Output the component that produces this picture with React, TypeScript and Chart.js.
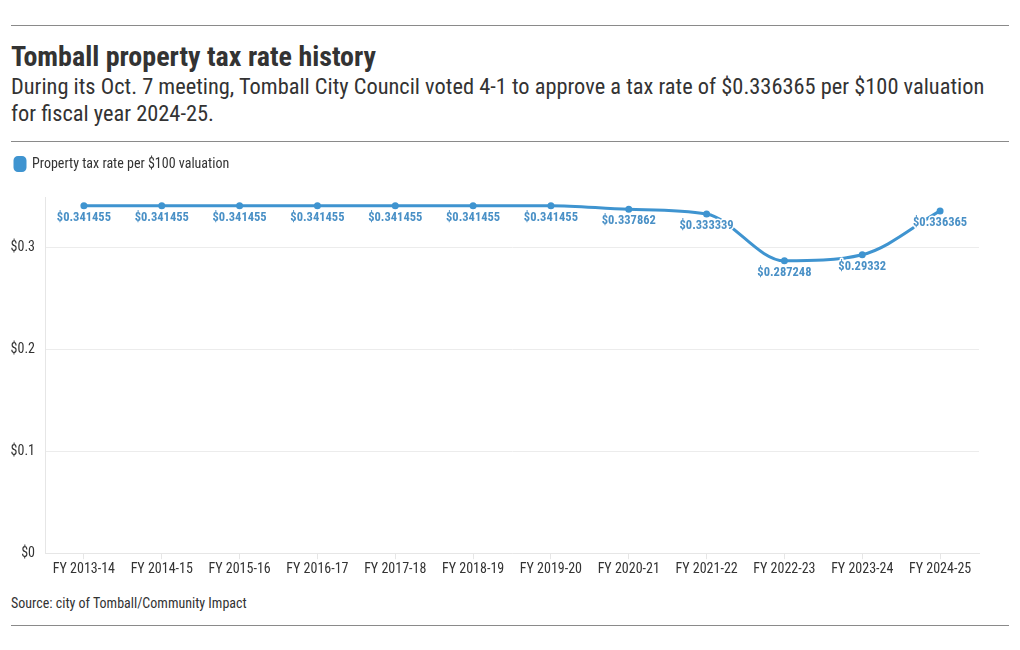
import React, { useEffect, useRef } from "react";
import { Chart, registerables } from "chart.js";

Chart.register(...registerables);

const categories = [
  "FY 2013-14", "FY 2014-15", "FY 2015-16", "FY 2016-17", "FY 2017-18", "FY 2018-19",
  "FY 2019-20", "FY 2020-21", "FY 2021-22", "FY 2022-23", "FY 2023-24", "FY 2024-25",
];
const taxRates = [
  0.341455, 0.341455, 0.341455, 0.341455, 0.341455, 0.341455,
  0.341455, 0.337862, 0.333339, 0.287248, 0.29332, 0.336365,
];
const yTicks = [0, 0.1, 0.2, 0.3];
const seriesName = "Property tax rate per $100 valuation";

const FONT = "'Roboto Condensed', Roboto, sans-serif";
const LINE_COLOR = "#3f94d0";
const LABEL_COLOR = "#4990c6";

const labelPlugin = {
  id: "pointLabels",
  afterDatasetsDraw(chart: any) {
    const ctx = chart.ctx;
    const meta = chart.getDatasetMeta(0);
    ctx.save();
    ctx.font = `bold 12.5px ${FONT}`;
    ctx.textAlign = "center";
    ctx.textBaseline = "middle";
    ctx.lineJoin = "round";
    meta.data.forEach((pt: any, i: number) => {
      const txt = "$" + String(taxRates[i]);
      const x = pt.x;
      const y = pt.y + 12;
      ctx.strokeStyle = "#ffffff";
      ctx.lineWidth = 3;
      ctx.strokeText(txt, x, y);
      ctx.fillStyle = LABEL_COLOR;
      ctx.fillText(txt, x, y);
    });
    ctx.restore();
  },
};

const legendSpacing = {
  id: "legendSpacing",
  beforeInit(chart: any) {
    const legend = chart.legend;
    if (!legend) return;
    const orig = legend.fit;
    legend.fit = function () {
      orig.call(this);
      this.height += 16;
    };
  },
};

function TaxChart() {
  const ref = useRef<HTMLCanvasElement>(null);
  useEffect(() => {
    if (!ref.current) return;
    const chart = new Chart(ref.current, {
      type: "line",
      data: {
        labels: categories,
        datasets: [
          {
            label: seriesName,
            data: taxRates,
            borderColor: LINE_COLOR,
            backgroundColor: LINE_COLOR,
            borderWidth: 3,
            pointRadius: 3.5,
            pointHoverRadius: 3.5,
            pointBackgroundColor: LINE_COLOR,
            pointBorderWidth: 0,
            cubicInterpolationMode: "monotone",
            fill: false,
          },
        ],
      },
      options: {
        responsive: false,
        animation: false,
        layout: { padding: { top: 0, right: 30, bottom: 0, left: 0 } },
        plugins: {
          legend: {
            display: true,
            position: "top",
            align: "start",
            labels: {
              boxWidth: 10,
              boxHeight: 13,
              useBorderRadius: true,
              borderRadius: 3,
              padding: 4,
              color: "#333333",
              font: { family: FONT, size: 14 },
            },
          },
          tooltip: { enabled: false },
        },
        scales: {
          x: {
            offset: true,
            grid: {
              display: true,
              offset: false,
              drawOnChartArea: false,
              drawTicks: true,
              tickLength: 6,
              color: "#e6e6e6",
            },
            border: { display: true, color: "#e6e6e6" },
            ticks: {
              color: "#333333",
              font: { family: FONT, size: 14 },
              padding: 2,
              maxRotation: 0,
              autoSkip: false,
            },
          },
          y: {
            min: 0,
            max: 0.35,
            afterBuildTicks: (scale: any) => {
              scale.ticks = yTicks.map((v) => ({ value: v }));
            },
            afterFit: (scale: any) => {
              scale.width = 34;
            },
            grid: { color: "#ececec", drawTicks: false },
            border: { display: true, color: "#e6e6e6" },
            ticks: {
              color: "#333333",
              font: { family: FONT, size: 14 },
              padding: 10,
              callback: (v: any) => "$" + Number(v).toString(),
            },
          },
        },
      },
      plugins: [legendSpacing, labelPlugin],
    });
    return () => chart.destroy();
  }, []);
  return <canvas ref={ref} width={998} height={427} style={{ display: "block" }} />;
}

export default function App() {
  const rule = (top: number) => (
    <div style={{ position: "absolute", left: 11, top, width: 998, height: 1, background: "#8a8a8a" }} />
  );
  return (
    <div style={{ position: "absolute", left: 0, top: 0, width: 1020, height: 650, background: "#fff", fontFamily: FONT, color: "#333" }}>
      {rule(25)}
      <div style={{ position: "absolute", left: 11, top: 40, fontSize: 28, fontWeight: 700, lineHeight: "34px", color: "#333" }}>
        Tomball property tax rate history
      </div>
      <div style={{ position: "absolute", left: 11, top: 73, width: 985, fontSize: 22.4, lineHeight: "27px", color: "#333" }}>
        During its Oct. 7 meeting, Tomball City Council voted 4-1 to approve a tax rate of $0.336365 per $100 valuation for fiscal year 2024-25.
      </div>
      {rule(141)}
      <div style={{ position: "absolute", left: 11, top: 153 }}>
        <TaxChart />
      </div>
      <div style={{ position: "absolute", left: 11, top: 594, fontSize: 14, lineHeight: "18px", color: "#333" }}>
        Source: city of Tomball/Community Impact
      </div>
      {rule(625)}
    </div>
  );
}
